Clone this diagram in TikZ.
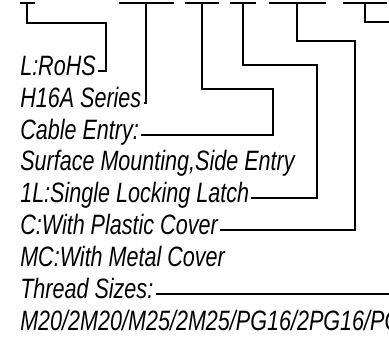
\documentclass[tikz,border=0pt]{standalone}
\usepackage{fontspec}
\setmainfont{Liberation Sans}[FakeStretch=0.77]
\usetikzlibrary{positioning}

\begin{document}
\begin{tikzpicture}[
x=0.75pt,y=-0.75pt,
code/.style={anchor=base west,inner sep=1.5pt,
font=\itshape\fontsize{21}{24}\selectfont},
lead/.style={line width=1.5pt}
]
\useasboundingbox (0,0) rectangle (389,339);
\clip (0,0) rectangle (389,339);
\node[code] (rohs)  at (18,75)  {L:RoHS};
\node[code] (ser)   at (18,107) {H16A Series};
\node[code] (cab)   at (18,139) {Cable Entry:};
\node[code] (surf)  at (18,170) {Surface Mounting,Side Entry};
\node[code] (latch) at (18,202) {1L:Single Locking Latch};
\node[code] (cov)   at (18,234) {C:With Plastic Cover};
\node[code] (mcov)  at (18,266) {MC:With Metal Cover};
\node[code] (thr)   at (18,298) {Thread Sizes:};
\node[code] (sizes) at (18,330) {M20/2M20/M25/2M25/PG16/2PG16/PG};
% tick tops and bends
\coordinate (t1) at (27,3);  \coordinate (k1) at (106,23);
\coordinate (t2) at (146,3);
\coordinate (t3) at (202,3); \coordinate (k3) at (273,89);
\coordinate (t4) at (243,3); \coordinate (k4) at (317,65);
\coordinate (t5) at (297,3); \coordinate (k5) at (355,41);
\coordinate (t6) at (365,3); \coordinate (k6) at (396,22);
\foreach \t/\w in {t1/7.5,t2/27.5,t3/17,t4/13,t5/28.5,t6/22}
\draw[lead] (\t) ++(-\w,0) -- ++(2*\w,0);
\draw[lead] (rohs.mid east) -| (k1) -| (t1);
\draw[lead] (ser.mid east) -| (t2);
\draw[lead] (cab.mid east) -| (k3) -| (t3);
\draw[lead] (latch.mid east) -| (k4) -| (t4);
\draw[lead] (cov.mid east) -| (k5) -| (t5);
\draw[lead] (thr.mid east) -| (k6) -| (t6);
\end{tikzpicture}
\end{document}
